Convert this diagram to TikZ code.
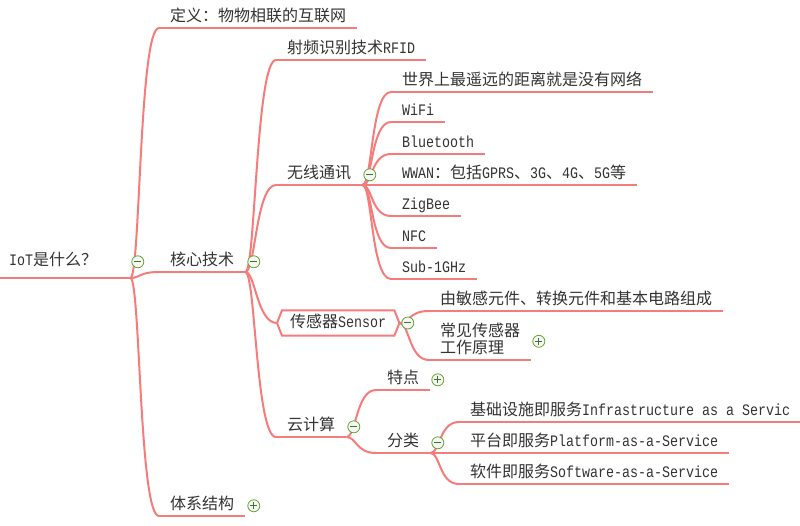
\documentclass[tikz,border=0pt]{standalone}
\usepackage{fontspec}
\setmainfont{Noto Sans CJK SC}
\newfontfamily\lat[FakeStretch=0.833]{Liberation Mono}
\usepackage{tikz}
\usetikzlibrary{positioning}
\definecolor{linkred}{RGB}{246,124,124}
\definecolor{foldgreen}{RGB}{96,164,52}

\begin{document}
\begin{tikzpicture}[
  x=1pt, y=-1pt,
  font=\fontsize{16pt}{17pt}\selectfont,
  link/.style={draw=linkred, line width=2pt},
  branch/.style={link, to path={.. controls +(10,0) and +(-20,0) .. (\tikztotarget) \tikztonodes}},
  topic/.style={anchor=south west, text=black!80, inner xsep=11pt, inner ysep=2pt,
                text height=12pt, text depth=4pt,
                append after command={(\tikzlastnode.south west) edge[link] (\tikzlastnode.south east)}},
  roottopic/.style={topic, inner xsep=9pt, inner ysep=8pt, text width=112pt, align=left},
  hexa/.style={anchor=west, text=black!80, inner xsep=13pt, minimum height=25pt,
               text height=12pt, text depth=4pt},
  fold/.style={circle, draw=foldgreen, fill=gray!8, line width=0.8pt, minimum size=12pt, inner sep=0pt,
               path picture={\draw[foldgreen!70!black, line width=1pt]
                 ([xshift=-3.5pt]path picture bounding box.center) -- ([xshift=3.5pt]path picture bounding box.center);}},
  unfold/.style={fold,
               path picture={\draw[foldgreen!70!black, line width=1pt]
                 ([xshift=-3.5pt]path picture bounding box.center) -- ([xshift=3.5pt]path picture bounding box.center)
                 ([yshift=-3.5pt]path picture bounding box.center) -- ([yshift=3.5pt]path picture bounding box.center);}}
]
\path[use as bounding box, fill=white] (0,0) rectangle (800,526);

% root and first level
\node[roottopic] (root) at (0,278) {{\lat IoT}是什么？};
\node[topic] (def) at (159,28) {定义：物物相联的互联网};
\node[topic] (core) at (159,272) {核心技术};
\node[topic] (arch) at (159,516) {体系结构};

% core technologies
\node[topic] (rfid) at (276,60) {射频识别技术{\lat RFID}};
\node[topic] (wireless) at (276,185) {无线通讯};
\node[hexa] (sensor) at (277,323) {传感器{\lat Sensor}};
\node[topic] (cloud) at (276,437) {云计算};

% wireless
\node[topic] (far) at (391,92) {世界上最遥远的距离就是没有网络};
\node[topic] (wifi) at (391,122) {\lat WiFi};
\node[topic] (bt) at (391,154) {\lat Bluetooth};
\node[topic] (wwan) at (391,185) {{\lat WWAN}：包括{\lat GPRS}、{\lat 3G}、{\lat 4G}、{\lat 5G}等};
\node[topic] (zigbee) at (391,216) {\lat ZigBee};
\node[topic] (nfc) at (391,248) {\lat NFC};
\node[topic] (sub) at (391,279) {\lat Sub-1GHz};

% sensor
\node[topic] (comp) at (429,311) {由敏感元件、转换元件和基本电路组成};
\node[topic, text width=80pt, align=left, text depth=21pt] (common) at (429,360)
  {常见传感器\\工作原理};

% cloud
\node[topic] (traits) at (376,390) {特点};
\node[topic] (kinds) at (376,453) {分类};
\node[topic] (iaas) at (459,422) {基础设施即服务{\lat Infrastructure as a Servic}};
\node[topic] (paas) at (459,453) {平台即服务{\lat Platform-as-a-Service}};
\node[topic] (saas) at (459,484) {软件即服务{\lat Software-as-a-Service}};

\draw[link] (sensor.west) -- ([xshift=5pt]sensor.north west) -- ([xshift=-5pt]sensor.north east)
  -- (sensor.east) -- ([xshift=-5pt]sensor.south east) -- ([xshift=5pt]sensor.south west) -- cycle;

\draw[branch] (root.south east) to (def.south west);
\draw[branch] (root.south east) to (core.south west);
\draw[branch] (root.south east) to (arch.south west);

\draw[branch] (core.south east) to (rfid.south west);
\draw[branch] (core.south east) to (wireless.south west);
\draw[branch] (core.south east) to (sensor.west);
\draw[branch] (core.south east) to (cloud.south west);

\draw[branch] (wireless.south east) to (far.south west);
\draw[branch] (wireless.south east) to (wifi.south west);
\draw[branch] (wireless.south east) to (bt.south west);
\draw[branch] (wireless.south east) to (wwan.south west);
\draw[branch] (wireless.south east) to (zigbee.south west);
\draw[branch] (wireless.south east) to (nfc.south west);
\draw[branch] (wireless.south east) to (sub.south west);

\draw[branch] (sensor.east) to (comp.south west);
\draw[branch] (sensor.east) to (common.south west);

\draw[branch] (cloud.south east) to (traits.south west);
\draw[branch] (cloud.south east) to (kinds.south west);
\draw[branch] (kinds.south east) to (iaas.south west);
\draw[branch] (kinds.south east) to (paas.south west);
\draw[branch] (kinds.south east) to (saas.south west);

% fold markers
\node[fold, right=1pt of root] (rootF) {};
\node[fold, right=2pt of core] (coreF) {};
\node[unfold, right=2pt of arch] (archF) {};
\node[fold, right=1pt of wireless] (wirelessF) {};
\node[fold, right=2pt of sensor] (sensorF) {};
\node[fold, right=1pt of cloud] (cloudF) {};
\node[unfold, right=1pt of traits] (traitsF) {};
\node[fold, right=1pt of kinds] (kindsF) {};
\node[unfold, right=1pt of common] (commonF) {};
\end{tikzpicture}
\end{document}
